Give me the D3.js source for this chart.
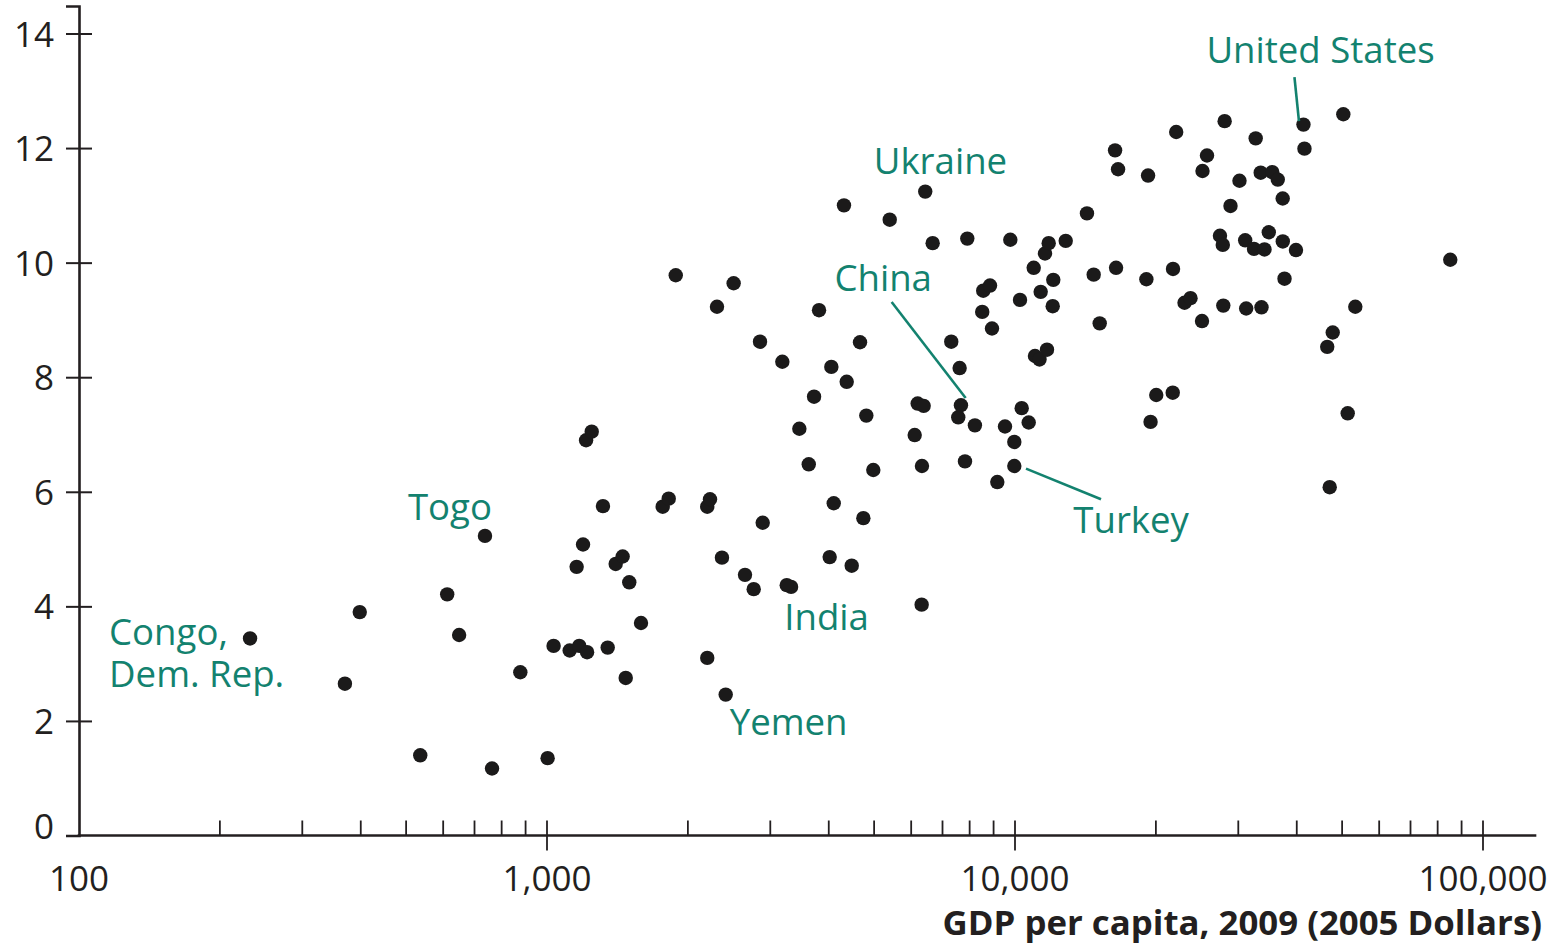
<!DOCTYPE html>
<html>
<head>
<meta charset="utf-8">
<script src="https://cdn.jsdelivr.net/npm/d3@7/dist/d3.min.js"></script>
<style>
  html, body { margin: 0; padding: 0; background: #ffffff; }
  svg { display: block; }
  text { font-family: "Open Sans", "Noto Sans", sans-serif; }
</style>
</head>
<body>
<svg id="chart" width="1555" height="948"></svg>
<script>
// GDP per capita, 2009 (2005 dollars) and average years of schooling by country
const gdpPerCapita = [
  370, 398, 536, 612, 649, 763, 877, 1003, 1033, 1118, 1172, 1218, 1157, 1194, 1212, 1246,
  1317, 1348, 1402, 1451, 1473, 1499, 1588, 1767, 1820, 1884, 2200, 2200, 2230, 2308, 2365,
  2505, 2649, 2765, 2852, 2890, 3183, 3323, 3461, 3625, 3721, 3813, 4018, 4051, 4099, 4311,
  4369, 4478, 4665, 4742, 4812, 4980, 5399, 6105, 6195, 6380, 6317, 6327, 6669, 7308, 7564,
  7616, 7819, 7908, 8210, 8511, 8553, 8843, 8930, 9166, 9520, 9772, 9966, 10250, 10335,
  10697, 10964, 11033, 11281, 11347, 11590, 11705, 11803, 12039, 12073, 12834, 14248, 14728,
  15170, 16362, 16442, 16605, 19087, 19246, 19482, 20037, 21760, 21730, 22104, 23029, 23714,
  25094, 25155, 25721, 27415, 27866, 27796, 28053, 28871, 30177, 31036, 31187, 32411, 32681,
  33627, 33496, 34126, 34856, 35463, 36434, 37326, 37343, 37660, 39845, 41545, 46471, 47040,
  47742, 50296, 51395, 53352, 85124
];
const yearsOfSchooling = [
  2.65, 3.90, 1.40, 4.21, 3.50, 1.17, 2.85, 1.35, 3.31, 3.23, 3.31, 3.20, 4.69, 5.08, 6.90, 7.05,
  5.75, 3.28, 4.74, 4.87, 2.75, 4.42, 3.71, 5.74, 5.88, 9.78, 3.10, 5.74, 5.87, 9.23, 4.85,
  9.64, 4.55, 4.30, 8.62, 5.46, 8.27, 4.34, 7.10, 6.48, 7.66, 9.17, 4.86, 8.18, 5.80, 11.00,
  7.92, 4.71, 8.61, 5.54, 7.33, 6.38, 10.75, 6.99, 7.54, 7.50, 4.03, 6.45, 10.34, 8.62, 7.30,
  8.16, 6.53, 10.42, 7.16, 9.14, 9.51, 9.60, 8.85, 6.17, 7.14, 10.40, 6.87, 9.35, 7.46,
  7.21, 9.91, 8.37, 8.31, 9.49, 10.16, 8.48, 10.34, 9.24, 9.70, 10.38, 10.86, 9.79,
  8.94, 11.96, 9.91, 11.63, 9.71, 11.52, 7.22, 7.69, 9.89, 7.73, 12.28, 9.30, 9.38,
  8.98, 11.60, 11.87, 10.47, 9.25, 10.31, 12.47, 10.99, 11.43, 10.39, 9.20, 10.24, 12.17,
  9.22, 11.57, 10.23, 10.53, 11.58, 11.45, 11.12, 10.37, 9.72, 10.22, 11.99, 8.53, 6.08,
  8.78, 12.59, 7.37, 9.23, 10.05
];

// Countries named on the chart
const labelNames = ["Congo, Dem. Rep.", "Togo", "India", "Yemen", "China", "Turkey", "Ukraine", "United States"];
const labelGdp = [232, 737, 3253, 2409, 7665, 9966, 6430, 41339];
const labelSchooling = [3.44, 5.23, 4.37, 2.46, 7.51, 6.45, 11.24, 12.41];

// Axis ticks
const yTickValues = [0, 2, 4, 6, 8, 10, 12, 14];
const xLabelValues = [100, 1000, 10000, 100000];

const svg = d3.select("#chart");
const INK = "#231f20";
const TEAL = "#13826f";

const x = d3.scaleLog().domain([100, 130000]).range([79, 79 + 468 * Math.log10(1300)]);
const y = d3.scaleLinear().domain([0, 14.48]).range([835.5, 6]);

// ---- y axis ----
const yAxis = svg.append("g")
  .attr("transform", `translate(${x(100)},0)`)
  .call(d3.axisLeft(y).tickValues(yTickValues).tickSize(13).tickPadding(0));
yAxis.select(".domain").attr("stroke", INK).attr("stroke-width", 2.6);
yAxis.selectAll(".tick line")
  .attr("x1", 13).attr("stroke", INK).attr("stroke-width", 2)
  .filter(d => d === 0).remove();
yAxis.selectAll(".tick text")
  .attr("x", -25)
  .attr("font-size", 35)
  .attr("fill", INK)
  .attr("dy", "0.36em")
  .attr("y", d => d === 0 ? -10 : 0);

// ---- x axis ----
const minorTicks = x.ticks().filter(v => Math.abs(Math.log10(v) % 1) > 1e-9);
const xAxisG = svg.append("g").attr("transform", `translate(0,${y(0)})`);

xAxisG.append("line")
  .attr("x1", x(100) - 1.3).attr("x2", x.range()[1])
  .attr("stroke", INK).attr("stroke-width", 2.6);

xAxisG.selectAll("line.minor").data(minorTicks).join("line")
  .attr("class", "minor")
  .attr("x1", d => x(d)).attr("x2", d => x(d))
  .attr("y1", -15).attr("y2", 0)
  .attr("stroke", INK).attr("stroke-width", 1.8);

xAxisG.selectAll("line.major").data(xLabelValues.filter(v => v > 100)).join("line")
  .attr("class", "major")
  .attr("x1", d => x(d)).attr("x2", d => x(d))
  .attr("y1", -15).attr("y2", 15)
  .attr("stroke", INK).attr("stroke-width", 1.8);

xAxisG.selectAll("text.tick").data(xLabelValues).join("text")
  .attr("class", "tick")
  .attr("x", d => x(d))
  .attr("y", 55)
  .attr("text-anchor", "middle")
  .attr("font-size", 35)
  .attr("fill", INK)
  .text(d => d3.format(",")(d));

svg.append("text")
  .attr("x", 1542).attr("y", 935)
  .attr("text-anchor", "end")
  .attr("font-size", 34.8)
  .attr("font-weight", 700)
  .attr("fill", INK)
  .text("GDP per capita, 2009 (2005 Dollars)");

// ---- points ----
const points = gdpPerCapita.map((g, i) => ({ gdp: g, yrs: yearsOfSchooling[i] }))
  .concat(labelGdp.map((g, i) => ({ gdp: g, yrs: labelSchooling[i] })));

svg.append("g").selectAll("circle").data(points).join("circle")
  .attr("cx", d => x(d.gdp))
  .attr("cy", d => y(d.yrs))
  .attr("r", 7.2)
  .attr("fill", "#1b1a1a");

// ---- country annotations (offsets in px from each country's dot) ----
const annotationLayout = {
  "Congo, Dem. Rep.": { lines: ["Congo,", "Dem. Rep."], dx: -141, dy: 6.7, lead: 42 },
  "Togo": { lines: ["Togo"], dx: -77, dy: -16.2 },
  "India": { lines: ["India"], dx: -2.5, dy: 44.5 },
  "Yemen": { lines: ["Yemen"], dx: 4, dy: 40.7 },
  "China": { lines: ["China"], dx: -126.5, dy: -114.5, leader: [-69.3, -103.3, 4.7, -7.3] },
  "Turkey": { lines: ["Turkey"], dx: 59, dy: 67.3, leader: [11.7, 2.6, 86.7, 33.3] },
  "Ukraine": { lines: ["Ukraine"], dx: -51.5, dy: -17.7 },
  "United States": { lines: ["United States"], dx: -97, dy: -62, leader: [-9, -47.5, -4.5, -3.5] }
};

const ann = svg.append("g");
labelNames.forEach((name, i) => {
  const px = x(labelGdp[i]), py = y(labelSchooling[i]);
  const L = annotationLayout[name];
  const t = ann.append("text")
    .attr("x", px + L.dx)
    .attr("y", py + L.dy)
    .attr("font-size", 36.6)
    .attr("fill", TEAL);
  L.lines.forEach((line, k) => {
    t.append("tspan")
      .attr("x", px + L.dx)
      .attr("dy", k === 0 ? 0 : L.lead)
      .text(line);
  });
  if (L.leader) {
    ann.append("line")
      .attr("x1", px + L.leader[0]).attr("y1", py + L.leader[1])
      .attr("x2", px + L.leader[2]).attr("y2", py + L.leader[3])
      .attr("stroke", TEAL).attr("stroke-width", 2.6);
  }
});
</script>
</body>
</html>
